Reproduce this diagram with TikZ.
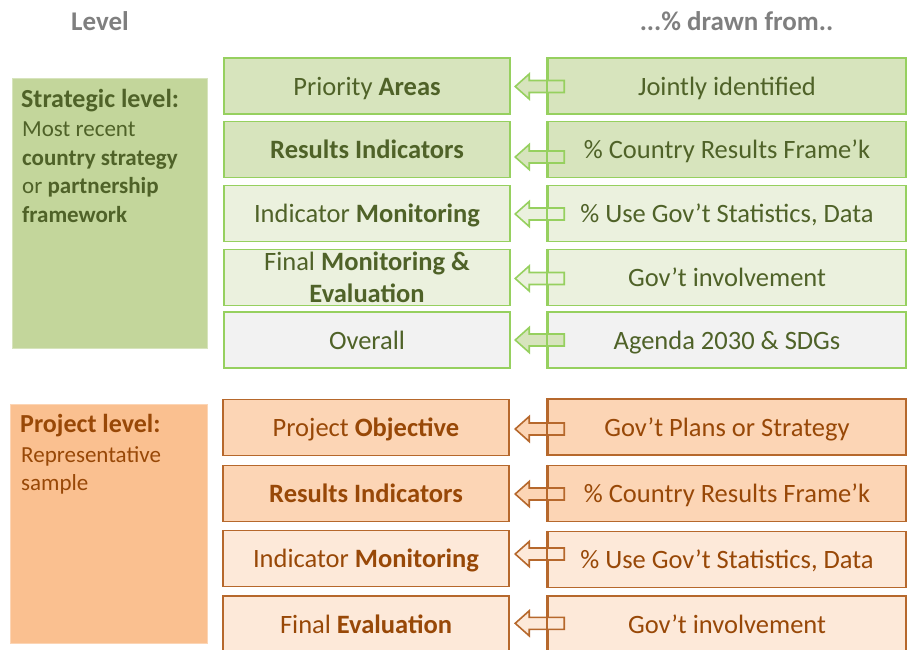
\documentclass[tikz,border=0pt]{standalone}
\usepackage{fontspec}
\setmainfont{Carlito}
\usetikzlibrary{calc}

\definecolor{grnfill}{HTML}{D7E4BD}
\definecolor{grnlight}{HTML}{EBF1DE}
\definecolor{greyfill}{HTML}{F2F2F2}
\definecolor{grnlevel}{HTML}{C3D69B}
\definecolor{grnline}{RGB}{150,208,95}
\definecolor{grntext}{HTML}{4F6228}
\definecolor{orgfill}{HTML}{FCD5B5}
\definecolor{orglight}{HTML}{FDE9D9}
\definecolor{orglevel}{HTML}{FAC090}
\definecolor{orgline}{RGB}{182,104,44}
\definecolor{orgtext}{HTML}{984807}
\definecolor{headgrey}{HTML}{7F7F7F}

\newcommand\rowfont{\fontsize{26.5}{32}\selectfont}
\newcommand\lvltitlefont{\fontsize{26}{30}\selectfont\bfseries}
\newcommand\lvlfont{\fontsize{23}{28}\selectfont}

\tikzset{
  head/.style={font=\fontsize{27}{32}\selectfont\bfseries, text=headgrey, inner sep=0pt},
  rowline/.style={line width=1.6pt},
  rowbox/.style={draw, rowline, minimum height=56, inner sep=0pt, font=\rowfont, align=center},
  fixline/.style={text height=21pt, text depth=3pt},
  midbox/.style={rowbox, fixline, minimum width=286},
  srcbox/.style={rowbox, fixline, minimum width=358},
  levelbox/.style={anchor=north west, inner sep=0pt, minimum width=195, line width=0.8pt},
  lvltext/.style={anchor=base west, inner sep=0pt, font=\lvlfont},
  blockarrow/.style={rowline, line join=miter},
}

\begin{document}
\begin{tikzpicture}[x=1pt,y=-1pt]
  \useasboundingbox (0,0) rectangle (907,649);
  \clip (0,0) rectangle (907,649);

  % headings
  \node[head, anchor=base] (hlevel) at (100,30.5) {Level};
  \node[head, anchor=base] (hdrawn) at (736.5,30) {...\% drawn from..};

  % strategic level
  \node[levelbox, fill=grnlevel, draw=grnfill, minimum height=270] (strat) at (12,78) {};
  \node[lvltext, text=grntext, font=\lvltitlefont] (st1) at ($(strat.north west)+(9,29)$) {Strategic level:};
  \node[lvltext, text=grntext] (st2) at ($(strat.north west)+(10,58.5)$) {Most recent};
  \node[lvltext, text=grntext] (st3) at ($(strat.north west)+(10,87)$) {\textbf{country strategy}};
  \node[lvltext, text=grntext] (st4) at ($(strat.north west)+(10,115.5)$) {or \textbf{partnership}};
  \node[lvltext, text=grntext] (st5) at ($(strat.north west)+(10,144)$) {\textbf{framework}};

  \begin{scope}[draw=grnline, text=grntext]
    \node[midbox, fill=grnfill] (g1) at (367,86) {Priority \textbf{Areas}};
    \node[midbox, fill=grnfill] (g2) at (367,149.5) {\textbf{Results Indicators}};
    \node[midbox, fill=grnlight] (g3) at (367,213.5) {Indicator \textbf{Monitoring}};
    \node[rowbox, minimum width=286, fill=grnlight] (g4) at (367,277.5) {Final \textbf{Monitoring \&}\\\textbf{Evaluation}};
    \node[midbox, fill=greyfill] (g5) at (367,340) {Overall};

    \node[srcbox, fill=grnfill] (gs1) at (727,86) {Jointly identified};
    \node[srcbox, fill=grnfill] (gs2) at (727,149.5) {\% Country Results Frame’k};
    \node[srcbox, fill=grnlight] (gs3) at (727,213.5) {\% Use Gov’t Statistics, Data};
    \node[srcbox, fill=grnlight] (gs4) at (727,277.5) {Gov’t involvement};
    \node[srcbox, fill=greyfill] (gs5) at (727,340) {Agenda 2030 \& SDGs};
  \end{scope}

  % project level
  \node[levelbox, fill=orglevel, draw=orgfill, minimum height=239, minimum width=197] (proj) at (10,404) {};
  \node[lvltext, text=orgtext, font=\lvltitlefont] (pr1) at ($(proj.north west)+(10,28.5)$) {Project level:};
  \node[lvltext, text=orgtext] (pr2) at ($(proj.north west)+(11,58)$) {Representative};
  \node[lvltext, text=orgtext] (pr3) at ($(proj.north west)+(11,86)$) {sample};

  \begin{scope}[draw=orgline, text=orgtext]
    \node[midbox, fill=orgfill] (o1) at (366,427.5) {Project \textbf{Objective}};
    \node[midbox, fill=orgfill] (o2) at (366,493.5) {\textbf{Results Indicators}};
    \node[midbox, fill=orglight] (o3) at (366,558.5) {Indicator \textbf{Monitoring}};
    \node[midbox, fill=orglight] (o4) at (366,624) {Final \textbf{Evaluation}};

    \node[srcbox, fill=orgfill] (os1) at (727,427) {Gov’t Plans or Strategy};
    \node[srcbox, fill=orgfill] (os2) at (727,493.5) {\% Country Results Frame’k};
    \node[srcbox, fill=orglight] (os3) at (727,559.5) {\% Use Gov’t Statistics, Data};
    \node[srcbox, fill=orglight] (os4) at (727,624) {Gov’t involvement};
  \end{scope}

  % arrows from the sources
  \foreach \src/\dy/\col in {gs1/0.5/grnfill, gs2/7.5/grnfill, gs3/0.5/grnlight, gs4/1/grnlight, gs5/0/grnfill}
    \draw[blockarrow, draw=grnline, fill=\col, shift={($(\src.west)+(0,\dy)$)}]
      (-32,0) -- (-18,-12.5) -- (-18,-6) -- (17,-6) -- (17,6) -- (-18,6) -- (-18,12.5) -- cycle;
  \foreach \src/\dy/\col in {os1/2/orgfill, os2/0.5/orgfill, os3/-5.5/orglight, os4/-0.7/orglight}
    \draw[blockarrow, draw=orgline, fill=\col, shift={($(\src.west)+(0,\dy)$)}]
      (-32,0) -- (-18,-12.5) -- (-18,-6) -- (17,-6) -- (17,6) -- (-18,6) -- (-18,12.5) -- cycle;

  % box edges over the arrow tails
  \foreach \src in {gs1,gs2,gs3,gs4,gs5}
    \draw[rowline, grnline] (\src.north west) -- (\src.south west);
  \foreach \src in {os1,os2,os3,os4}
    \draw[rowline, orgline] (\src.north west) -- (\src.south west);
\end{tikzpicture}
\end{document}
